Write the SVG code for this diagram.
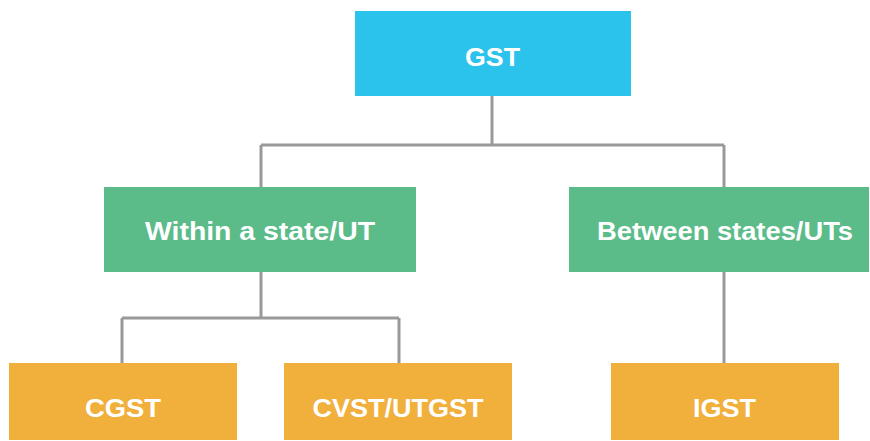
<svg xmlns="http://www.w3.org/2000/svg" width="870" height="441" viewBox="0 0 870 441">
<style>
.lbl{font-family:"Liberation Sans",Arial,sans-serif;font-weight:bold;font-size:25px;fill:#ffffff;text-anchor:middle}
.con{fill:none;stroke:#999999;stroke-width:3}
</style>
<rect width="870" height="441" fill="#ffffff"/>
<g id="connectors">
<path class="con" d="M492 96V145M261 145H724M261 145V187M724 145V187"/>
<path class="con" d="M261 272V318M122 318H399M122 318V363M399 318V363"/>
<path class="con" d="M724 272V363"/>
</g>
<g id="gst"><rect x="355" y="11" width="276" height="85" fill="#2BC3EB"/><text class="lbl" x="492.5" y="66" textLength="55" lengthAdjust="spacingAndGlyphs">GST</text></g>
<g id="within"><rect x="104" y="187" width="312" height="85" fill="#5BBC8A"/><text class="lbl" x="260" y="240" textLength="230" lengthAdjust="spacingAndGlyphs">Within a state/UT</text></g>
<g id="between"><rect x="569" y="187" width="300" height="85" fill="#5BBC8A"/><text class="lbl" x="725" y="240" textLength="256" lengthAdjust="spacingAndGlyphs">Between states/UTs</text></g>
<g id="cgst"><rect x="9" y="363" width="228" height="77" fill="#F0B03B"/><text class="lbl" x="123" y="417" textLength="76" lengthAdjust="spacingAndGlyphs">CGST</text></g>
<g id="cvst"><rect x="284" y="363" width="228" height="77" fill="#F0B03B"/><text class="lbl" x="398" y="417" textLength="171" lengthAdjust="spacingAndGlyphs">CVST/UTGST</text></g>
<g id="igst"><rect x="611" y="363" width="228" height="77" fill="#F0B03B"/><text class="lbl" x="724.5" y="417" textLength="63" lengthAdjust="spacingAndGlyphs">IGST</text></g>
</svg>
